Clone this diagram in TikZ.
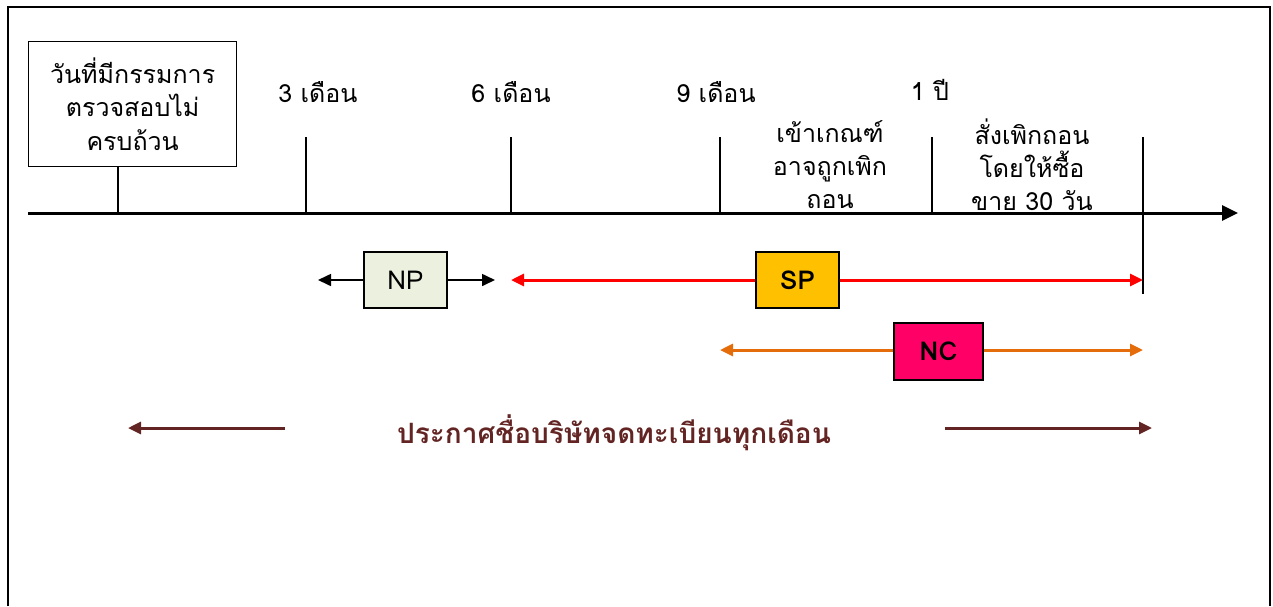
\documentclass[tikz,border=0pt]{standalone}
\usepackage{fontspec}
\setmainfont[Script=Thai]{Loma}
\usetikzlibrary{arrows.meta}
\definecolor{npfill}{HTML}{EBF1DE}
\definecolor{spfill}{HTML}{FFC000}
\definecolor{ncfill}{HTML}{FF0066}
\definecolor{ncline}{HTML}{E46C0A}
\definecolor{spline}{HTML}{FF0000}
\definecolor{dred}{HTML}{632523}
\tikzset{
  lbl/.style={font=\fontsize{25}{33}\selectfont, align=center, inner sep=0pt},
  tickline/.style={line width=1.3pt},
  codebox/.style={draw, line width=1.8pt, minimum width=83pt, minimum height=56pt, inner sep=0pt, font=\fontsize{26}{30}\selectfont},
  tip/.style={-{Triangle[length=13pt,width=12pt]}},
  tips/.style={{Triangle[length=13pt,width=12pt]}-{Triangle[length=13pt,width=12pt]}},
}
\begin{document}
\begin{tikzpicture}[x=1pt,y=-1pt]
\useasboundingbox (0,0) rectangle (1273,606);
% frame
\draw[line width=1.3pt] (8,606) -- (8,7) -- (1270,7) -- (1270,606);
% start box
\node[draw, line width=1.3pt, minimum width=208pt, minimum height=125pt, lbl, font=\fontsize{25}{33.5}\selectfont, anchor=north west] (start) at (28,41) {วันที่มีกรรมการ\\ตรวจสอบไม่\\ครบถ้วน};
% axis
\coordinate (a0) at (28,213);
\coordinate (a1) at (1238,213);
\draw[line width=3pt, -{Triangle[length=16pt,width=15pt]}] (a0) -- (a1);
% ticks
\coordinate (t0) at (118,213);
\draw[tickline] (start.south -| t0) -- (t0);
\foreach \n/\x in {t3/306, t6/511, t9/720, t12/932}{
  \coordinate (\n top) at (\x,137);
  \coordinate (\n) at (\x,213);
  \draw[tickline] (\n top) -- (\n);
}
\coordinate (tendtop) at (1143,137);
\coordinate (tendbot) at (1143,294);
\draw[tickline] (tendtop) -- (tendbot);
% labels
\node[lbl] (l3) at (318,92) {3 เดือน};
\node[lbl] (l6) at (511,92) {6 เดือน};
\node[lbl] (l9) at (716,92) {9 เดือน};
\node[lbl] (l12) at (930,90) {1 ปี};
\node[lbl] (lw) at (830,165) {เข้าเกณฑ์\\อาจถูกเพิก\\ถอน};
\node[lbl] (lx) at (1032,165) {สั่งเพิกถอน\\โดยให้ซื้อ\\ขาย 30 วัน};
% NP
\node[codebox, fill=npfill, line width=1.5pt] (np) at (405.5,280) {NP};
\coordinate (npl) at (318,280);
\coordinate (npr) at (495,280);
\draw[line width=1.6pt, tip] (np.west) -- (npl);
\draw[line width=1.6pt, tip] (np.east) -- (npr);
% SP
\coordinate (spl) at (511,280);
\coordinate (spr) at (1143,280);
\draw[spline, line width=3pt, tips] (spl) -- (spr);
\node[codebox, fill=spfill, font=\fontsize{26}{30}\selectfont\bfseries] (sp) at (797.5,280) {SP};
% NC
\coordinate (ncl) at (720,350);
\coordinate (ncr) at (1143,350);
\draw[ncline, line width=3pt, tips] (ncl) -- (ncr);
\node[codebox, fill=ncfill, minimum width=89pt, minimum height=57pt, font=\fontsize{26}{30}\selectfont\bfseries] (nc) at (938.5,351.5) {NC};
% announcement
\node[lbl, text=dred, font=\fontsize{28}{32}\selectfont\bfseries] (ann) at (614,433) {ประกาศชื่อบริษัทจดทะเบียนทุกเดือน};
\coordinate (al0) at (285,428);
\coordinate (al1) at (128,428);
\coordinate (ar0) at (945,428);
\coordinate (ar1) at (1152,428);
\draw[dred, line width=3pt, tip] (al0) -- (al1);
\draw[dred, line width=3pt, tip] (ar0) -- (ar1);
\end{tikzpicture}
\end{document}
